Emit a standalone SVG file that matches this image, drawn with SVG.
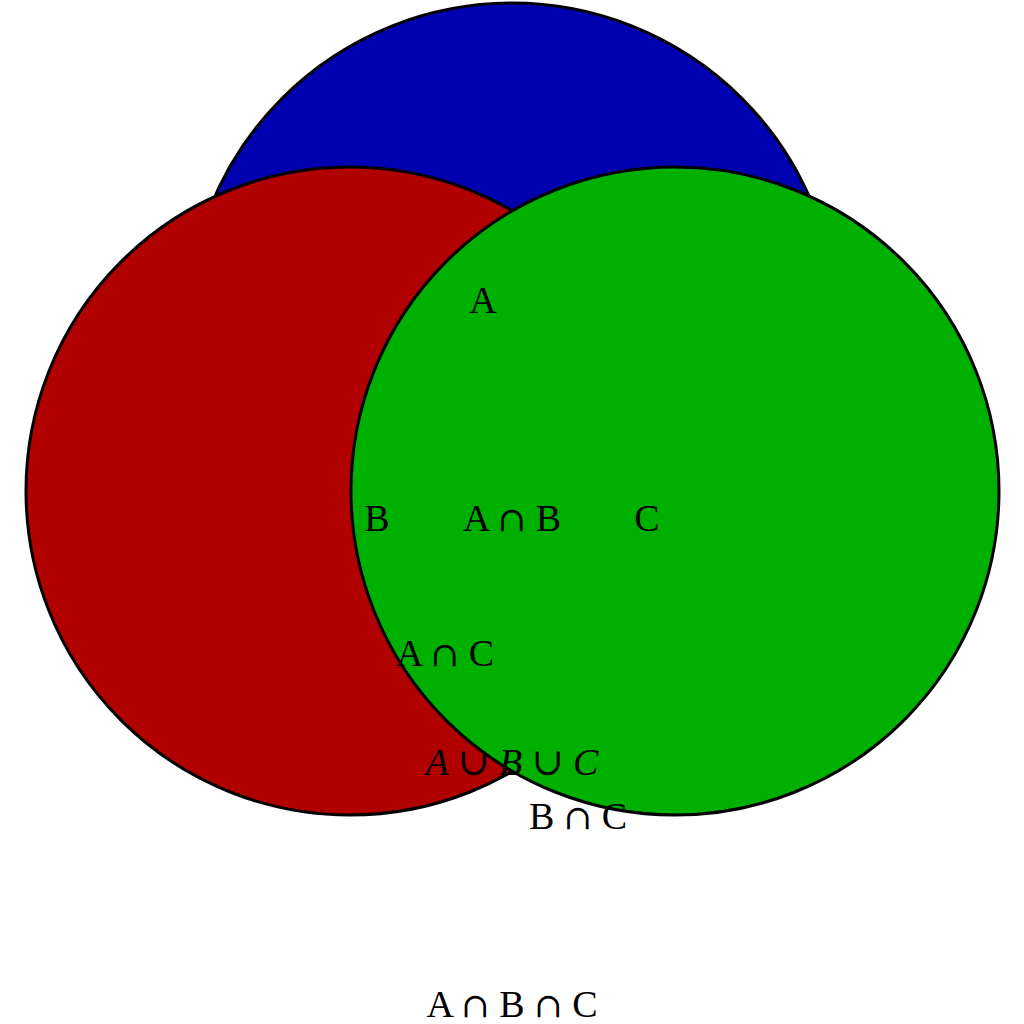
<svg xmlns="http://www.w3.org/2000/svg" width="1024" height="1024" viewBox="0 0 1024 1024">
<style>
.c{stroke:#000;stroke-width:3}
.t{font-family:"Liberation Serif","DejaVu Serif",serif;font-size:38px;fill:#000;text-anchor:middle}
.i{font-style:italic}
.o{font-family:"DejaVu Serif",serif;font-size:34px}
</style>
<rect width="1024" height="1024" fill="#fff"/>
<g id="setA"><circle class="c" cx="512" cy="328" r="325" fill="#0000b0"/></g>
<g id="setB"><circle class="c" cx="350" cy="491" r="324" fill="#b00000"/></g>
<g id="setC"><circle class="c" cx="675" cy="491" r="324" fill="#00b000"/></g>
<g id="connectors"></g>
<g id="labels">
<text class="t" x="483" y="313">A</text>
<text class="t" x="377" y="531">B</text>
<text class="t" x="512" y="531">A <tspan class="o">∩</tspan> B</text>
<text class="t" x="647" y="531">C</text>
<text class="t" x="445" y="666">A <tspan class="o">∩</tspan> C</text>
<text class="t i" x="512" y="775">A ∪ B ∪ C</text>
<text class="t" x="578" y="829">B <tspan class="o">∩</tspan> C</text>
<text class="t" x="512" y="1017">A <tspan class="o">∩</tspan> B <tspan class="o">∩</tspan> C</text>
</g>
</svg>
